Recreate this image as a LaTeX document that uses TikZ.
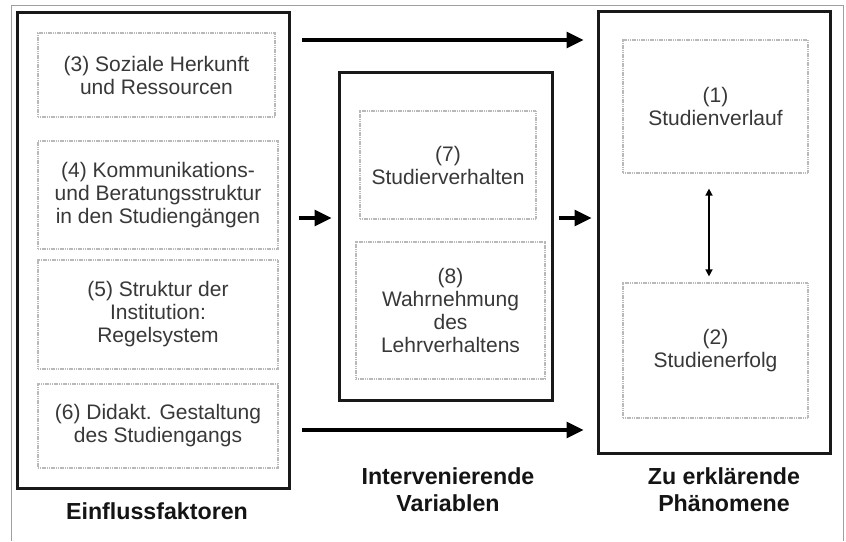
\documentclass[tikz,border=0pt]{standalone}
\usepackage{fontspec}
\setmainfont{Liberation Sans}
\usetikzlibrary{arrows.meta}
\begin{document}
\begin{tikzpicture}[x=1pt,y=-1pt,
  bigbox/.style={draw=black!90,line width=3pt,inner sep=0pt},
  smallbox/.style={draw=gray!55,line width=1.2pt,dash pattern=on 1.2pt off 0.6pt,inner sep=0pt,
    align=center,text=black!78,font=\fontsize{21}{23}\selectfont},
  caption/.style={align=center,text=black!92,font=\fontsize{23.2}{27}\selectfont\bfseries},
  arr/.style={draw=black,line width=3.1pt,-{Triangle[length=17pt,width=16pt]}},
  darr/.style={draw=black,line width=1.5pt,{Triangle[length=7pt,width=7pt]}-{Triangle[length=7pt,width=7pt]}}]
\useasboundingbox (0,0) rectangle (846,541);
\fill[white] (0,0) rectangle (846,541);
\draw[gray!75,line width=1pt] (11.5,541) -- (11.5,5.5) -- (843,5.5) -- (843,541);
% big boxes
\node[bigbox,minimum width=272pt,minimum height=476pt] (L) at (153,250) {};
\node[bigbox,minimum width=213pt,minimum height=328pt] (M) at (445.5,236) {};
\node[bigbox,minimum width=232pt,minimum height=442pt] (R) at (714,232) {};
% left inner boxes
\node[smallbox,minimum width=237pt,minimum height=84pt] (b3) at (156.5,75) {(3) Soziale Herkunft\\und Ressourcen};
\node[smallbox,minimum width=240pt,minimum height=108pt] (b4) at (158,195) {(4) Kommunikations-\\und Beratungsstruktur\\in den Studiengängen};
\node[smallbox,minimum width=240pt,minimum height=109pt] (b5) at (158,314.5) {(5) Struktur der\\Institution:\\Regelsystem};
\node[smallbox,minimum width=240pt,minimum height=84pt] (b6) at (158,426) {(6) Didakt. Gestaltung\\des Studiengangs};
% middle inner boxes
\node[smallbox,minimum width=176pt,minimum height=108pt] (b7) at (448,165) {(7)\\Studierverhalten};
\node[smallbox,minimum width=189pt,minimum height=137pt] (b8) at (450.5,310.5) {(8)\\Wahrnehmung\\des\\Lehrverhaltens};
% right inner boxes
\node[smallbox,minimum width=185pt,minimum height=133pt] (b1) at (715.5,106.5) {(1)\\Studienverlauf};
\node[smallbox,minimum width=185pt,minimum height=135pt] (b2) at (715.5,350.5) {(2)\\Studienerfolg};
% arrows
\draw[arr] ([xshift=11pt]L.east |- 0,40) -- ([xshift=-13pt]R.west |- 0,40);
\draw[arr] ([xshift=8pt]L.east |- 0,218) -- ([xshift=-6pt]M.west |- 0,218);
\draw[arr] ([xshift=5pt]M.east |- 0,218) -- ([xshift=-5pt]R.west |- 0,218);
\draw[arr] ([xshift=11pt]L.east |- 0,430) -- ([xshift=-13pt]R.west |- 0,430);
\draw[darr] ([xshift=-6.5pt,yshift=-15pt]b1.south) -- ([xshift=-6.5pt,yshift=6pt]b2.north);
% captions
\node[caption] (c1) at (157,511) {Einflussfaktoren};
\node[caption] (c2) at (448,490) {Intervenierende\\Variablen};
\node[caption] (c3) at (724,490) {Zu erklärende\\Phänomene};
\end{tikzpicture}
\end{document}
